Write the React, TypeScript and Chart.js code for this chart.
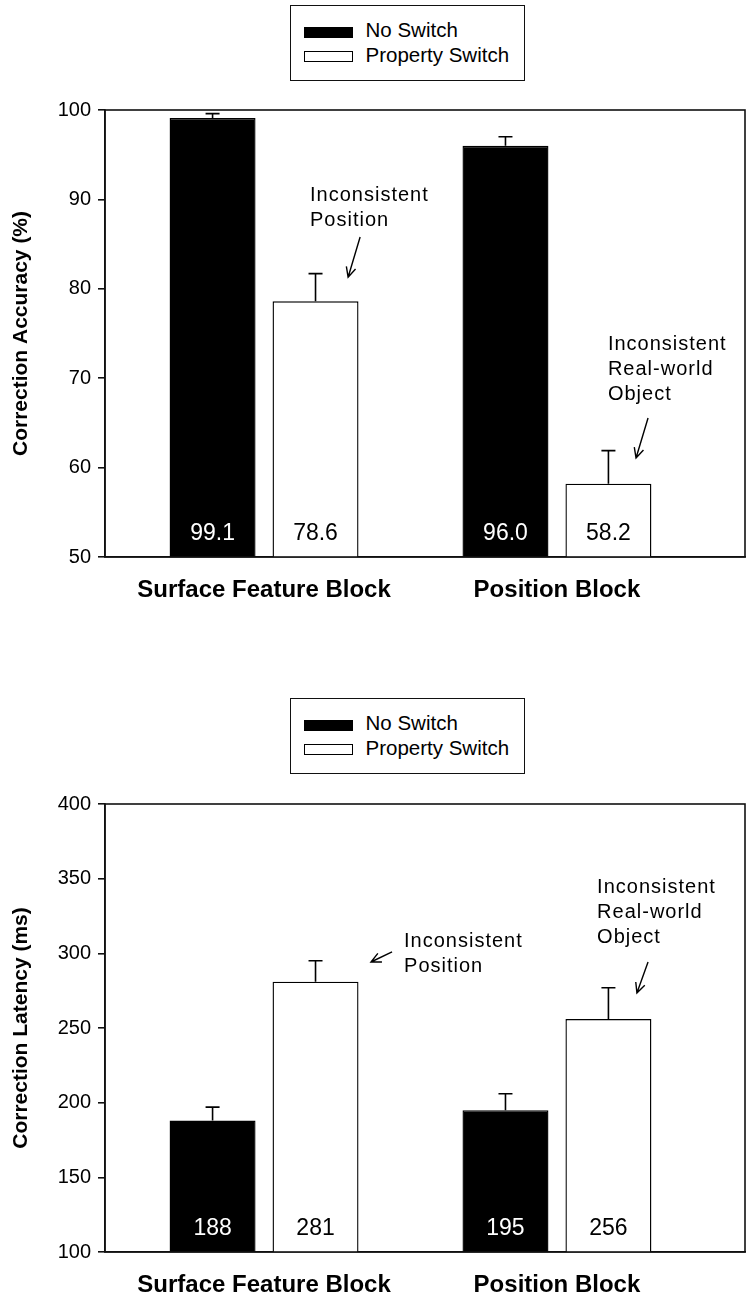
import React, { useEffect, useRef } from "react";
import { Chart, registerables } from "chart.js";

Chart.register(...registerables);

const FONT = '"Liberation Sans", Arial, Helvetica, sans-serif';

// ---- data ----
const categories = ["Surface Feature Block", "Position Block"];
const categoryPositions = [1, 2];
const seriesNames = ["No Switch", "Property Switch"];
const seriesFill = ["#000000", "#ffffff"];
const valueLabelColors = ["#ffffff", "#000000"];

const accuracyNoSwitch = [99.1, 96.0];
const accuracyNoSwitchErr = [0.5, 1.0];
const accuracySwitch = [78.6, 58.2];
const accuracySwitchErr = [3.1, 3.7];
const accuracyTicks = [50, 60, 70, 80, 90, 100];

const latencyNoSwitch = [188, 195];
const latencyNoSwitchErr = [9, 11];
const latencySwitch = [281, 256];
const latencySwitchErr = [14, 21];
const latencyTicks = [100, 150, 200, 250, 300, 350, 400];

// annotation anchors in data units (x: category axis units, y: value units)
const accuracyNotes = [
  { lines: ["Inconsistent", "Position"], x: 1.157, y: [89.8, 87.0], from: [1.328, 85.8], to: [1.287, 81.3] },
  { lines: ["Inconsistent", "Real-world", "Object"], x: 2.174, y: [73.15, 70.36, 67.56], from: [2.311, 65.55], to: [2.27, 61.07] },
];
const latencyNotes = [
  { lines: ["Inconsistent", "Position"], x: 1.478, y: [304.3, 287.5], from: [1.437, 300.9], to: [1.365, 294.2] },
  { lines: ["Inconsistent", "Real-world", "Object"], x: 2.137, y: [340.5, 323.7, 307.0], from: [2.311, 294.2], to: [2.273, 273.5] },
];

type Note = { lines: string[]; x: number; y: number[]; from: number[]; to: number[] };

type ChartSpec = {
  yTitle: string;
  ticks: number[];
  noSwitch: number[];
  noSwitchErr: number[];
  propSwitch: number[];
  propSwitchErr: number[];
  decimals: number;
  notes: Note[];
  padTop: number;
  xAxisHeight: number;
};

function makeOverlay(spec: ChartSpec) {
  const errors = [spec.noSwitchErr, spec.propSwitchErr];
  return {
    id: "overlay",
    afterDatasetsDraw(chart: any) {
      const { ctx, chartArea, scales } = chart;
      const xs = scales.x;
      const ys = scales.y;
      ctx.save();
      chart.data.datasets.forEach((ds: any, di: number) => {
        const meta = chart.getDatasetMeta(di);
        meta.data.forEach((bar: any, i: number) => {
          const v = ds.data[i].y;
          const top = ys.getPixelForValue(v + errors[di][i]);
          ctx.strokeStyle = "#000";
          ctx.lineWidth = 1.6;
          ctx.beginPath();
          ctx.moveTo(bar.x, bar.y);
          ctx.lineTo(bar.x, top);
          ctx.moveTo(bar.x - 7, top);
          ctx.lineTo(bar.x + 7, top);
          ctx.stroke();
          ctx.fillStyle = valueLabelColors[di];
          ctx.font = `23px ${FONT}`;
          ctx.textAlign = "center";
          ctx.textBaseline = "alphabetic";
          ctx.fillText(v.toFixed(spec.decimals), bar.x, chartArea.bottom - 17);
        });
      });
      // frame
      ctx.strokeStyle = "#111";
      ctx.lineWidth = 1.6;
      ctx.strokeRect(chartArea.left, chartArea.top, chartArea.right - chartArea.left, chartArea.bottom - chartArea.top);
      // notes
      ctx.fillStyle = "#000";
      ctx.font = `20px ${FONT}`;
      try { (ctx as any).letterSpacing = "1px"; } catch (e) {}
      ctx.textAlign = "left";
      ctx.textBaseline = "alphabetic";
      spec.notes.forEach((n) => {
        const tx = xs.getPixelForValue(n.x);
        n.lines.forEach((line, li) => {
          ctx.fillText(line, tx, ys.getPixelForValue(n.y[li]));
        });
        const x1 = xs.getPixelForValue(n.from[0]);
        const y1 = ys.getPixelForValue(n.from[1]);
        const x2 = xs.getPixelForValue(n.to[0]);
        const y2 = ys.getPixelForValue(n.to[1]);
        const ang = Math.atan2(y2 - y1, x2 - x1);
        const hl = 11;
        const spread = 0.45;
        ctx.strokeStyle = "#000";
        ctx.lineWidth = 1.4;
        ctx.beginPath();
        ctx.moveTo(x1, y1);
        ctx.lineTo(x2, y2);
        ctx.moveTo(x2 - hl * Math.cos(ang - spread), y2 - hl * Math.sin(ang - spread));
        ctx.lineTo(x2, y2);
        ctx.lineTo(x2 - hl * Math.cos(ang + spread), y2 - hl * Math.sin(ang + spread));
        ctx.stroke();
      });
      ctx.restore();
    },
  };
}

function buildConfig(spec: ChartSpec): any {
  const values = [spec.noSwitch, spec.propSwitch];
  return {
    type: "bar",
    data: {
      datasets: seriesNames.map((name, di) => ({
        label: name,
        data: categoryPositions.map((x, i) => ({ x, y: values[di][i] })),
        backgroundColor: seriesFill[di],
        borderColor: "#000",
        borderWidth: 1.4,
        categoryPercentage: 0.703,
        barPercentage: 0.835,
      })),
    },
    options: {
      responsive: false,
      animation: false,
      layout: { padding: { top: spec.padTop, right: 5, left: 0, bottom: 0 } },
      plugins: { legend: { display: false }, tooltip: { enabled: false } },
      scales: {
        x: {
          type: "linear",
          min: 0.457,
          max: 2.642,
          offset: false,
          grid: { display: false },
          border: { display: true, color: "#111", width: 1.6 },
          afterBuildTicks: (axis: any) => {
            axis.ticks = categoryPositions.map((v) => ({ value: v }));
          },
          afterFit: (axis: any) => {
            axis.height = spec.xAxisHeight;
          },
          ticks: {
            autoSkip: false,
            maxRotation: 0,
            padding: 11,
            color: "#000",
            font: { family: FONT, size: 24, weight: "bold" },
            callback: (_v: any, i: number) => categories[i],
          },
        },
        y: {
          min: spec.ticks[0],
          max: spec.ticks[spec.ticks.length - 1],
          ticks: {
            stepSize: spec.ticks[1] - spec.ticks[0],
            padding: 7,
            color: "#000",
            font: { family: FONT, size: 20 },
          },
          grid: { drawOnChartArea: false, drawTicks: true, tickLength: 7, color: "#111", lineWidth: 1.6 },
          border: { display: true, color: "#111", width: 1.6 },
          title: {
            display: true,
            text: spec.yTitle,
            color: "#000",
            font: { family: FONT, size: 21, weight: "bold" },
            padding: { top: 9, bottom: 0 },
          },
          afterFit: (axis: any) => {
            axis.width = 105;
          },
        },
      },
    },
    plugins: [makeOverlay(spec)],
  };
}

function BarChart({ spec, top }: { spec: ChartSpec; top: number }) {
  const ref = useRef<HTMLCanvasElement | null>(null);
  useEffect(() => {
    if (!ref.current) return;
    const chart = new Chart(ref.current, buildConfig(spec));
    return () => chart.destroy();
  }, []);
  return (
    <canvas
      ref={ref}
      width={750}
      height={651}
      style={{ position: "absolute", left: 0, top, width: 750, height: 651, display: "block" }}
    />
  );
}

function Legend({ top }: { top: number }) {
  return (
    <div
      style={{
        position: "absolute",
        left: 290,
        top,
        width: 235,
        height: 76,
        border: "1.5px solid #111",
        boxSizing: "border-box",
        background: "#fff",
        fontFamily: FONT,
        fontSize: 20.5,
        color: "#000",
      }}
    >
      {seriesNames.map((name, i) => (
        <React.Fragment key={name}>
          <div
            style={{
              position: "absolute",
              left: 12.5,
              top: i === 0 ? 20.5 : 45,
              width: 49,
              height: 11,
              background: seriesFill[i],
              border: "1px solid #000",
              boxSizing: "border-box",
            }}
          />
          <div
            style={{
              position: "absolute",
              left: 74.5,
              top: i === 0 ? 13.5 : 38.5,
              lineHeight: "20px",
              whiteSpace: "nowrap",
            }}
          >
            {name}
          </div>
        </React.Fragment>
      ))}
    </div>
  );
}

const accuracySpec: ChartSpec = {
  yTitle: "Correction Accuracy (%)",
  ticks: accuracyTicks,
  noSwitch: accuracyNoSwitch,
  noSwitchErr: accuracyNoSwitchErr,
  propSwitch: accuracySwitch,
  propSwitchErr: accuracySwitchErr,
  decimals: 1,
  notes: accuracyNotes,
  padTop: 110,
  xAxisHeight: 94,
};

const latencySpec: ChartSpec = {
  yTitle: "Correction Latency (ms)",
  ticks: latencyTicks,
  noSwitch: latencyNoSwitch,
  noSwitchErr: latencyNoSwitchErr,
  propSwitch: latencySwitch,
  propSwitchErr: latencySwitchErr,
  decimals: 0,
  notes: latencyNotes,
  padTop: 153,
  xAxisHeight: 50,
};

export default function App() {
  return (
    <div style={{ position: "absolute", left: 0, top: 0, width: 750, height: 1302, background: "#fff", overflow: "hidden" }}>
      <BarChart spec={accuracySpec} top={0} />
      <BarChart spec={latencySpec} top={651} />
      <Legend top={5} />
      <Legend top={698} />
    </div>
  );
}
